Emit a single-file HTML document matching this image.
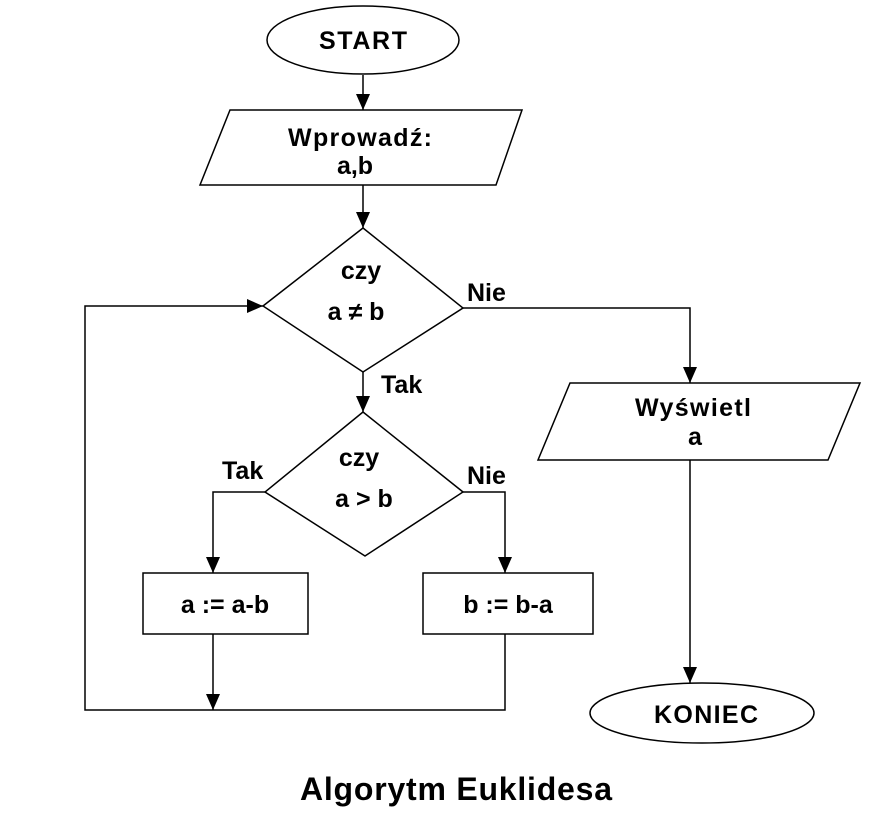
<!DOCTYPE html>
<html><head><meta charset="utf-8"><style>
html,body{margin:0;padding:0;background:#fff;}
svg{display:block;}
text{font-family:"Liberation Sans",Arial,sans-serif;font-weight:bold;font-size:25px;fill:#000;}
</style></head><body>
<svg width="890" height="820" viewBox="0 0 890 820" xmlns="http://www.w3.org/2000/svg">
<defs>
<marker id="b" markerWidth="16" markerHeight="14" refX="16" refY="7" orient="auto" markerUnits="userSpaceOnUse">
<path d="M0,0 L16,7 L0,14 z" fill="#000"/></marker>
</defs>
<g fill="none" stroke="#000" stroke-width="1.5">
<ellipse cx="363" cy="40" rx="96" ry="34"/>
<polygon points="230,110 522,110 496,185 200,185"/>
<polygon points="363,228 463,308 363,372 263,306"/>
<polygon points="363,412 463,492 365,556 265,492"/>
<rect x="143" y="573" width="165" height="61"/>
<rect x="423" y="573" width="170" height="61"/>
<polygon points="570,383 860,383 828,460 538,460"/>
<ellipse cx="702" cy="713" rx="112" ry="30"/>
<line x1="363" y1="75" x2="363" y2="110" marker-end="url(#b)"/>
<line x1="363" y1="185" x2="363" y2="228" marker-end="url(#b)"/>
<line x1="363" y1="372" x2="363" y2="412" marker-end="url(#b)"/>
<polyline points="265,492 213,492 213,573" marker-end="url(#b)"/>
<polyline points="463,492 505,492 505,573" marker-end="url(#b)"/>
<polyline points="463,308 690,308 690,383" marker-end="url(#b)"/>
<line x1="690" y1="460" x2="690" y2="683" marker-end="url(#b)"/>
<line x1="213" y1="634" x2="213" y2="710" marker-end="url(#b)"/>
<polyline points="505,634 505,710 85,710 85,306 263,306" marker-end="url(#b)"/>
</g>
<text x="363" y="49" text-anchor="middle" textLength="88">START</text>
<text x="360" y="146" text-anchor="middle" textLength="144">Wprowadź:</text>
<text x="355" y="174" text-anchor="middle">a,b</text>
<text x="361" y="279" text-anchor="middle">czy</text>
<text x="356" y="320" text-anchor="middle">a ≠ b</text>
<text x="467" y="301">Nie</text>
<text x="381" y="393">Tak</text>
<text x="359" y="466" text-anchor="middle">czy</text>
<text x="364" y="507" text-anchor="middle">a &gt; b</text>
<text x="222" y="479">Tak</text>
<text x="467" y="484">Nie</text>
<text x="225" y="613" text-anchor="middle">a := a-b</text>
<text x="508" y="613" text-anchor="middle">b := b-a</text>
<text x="693" y="416" text-anchor="middle" textLength="116">Wyświetl</text>
<text x="695" y="445" text-anchor="middle">a</text>
<text x="706" y="723" text-anchor="middle" textLength="104">KONIEC</text>
<text x="456" y="800" text-anchor="middle" style="font-size:32px" textLength="312">Algorytm Euklidesa</text>
</svg>
</body></html>
